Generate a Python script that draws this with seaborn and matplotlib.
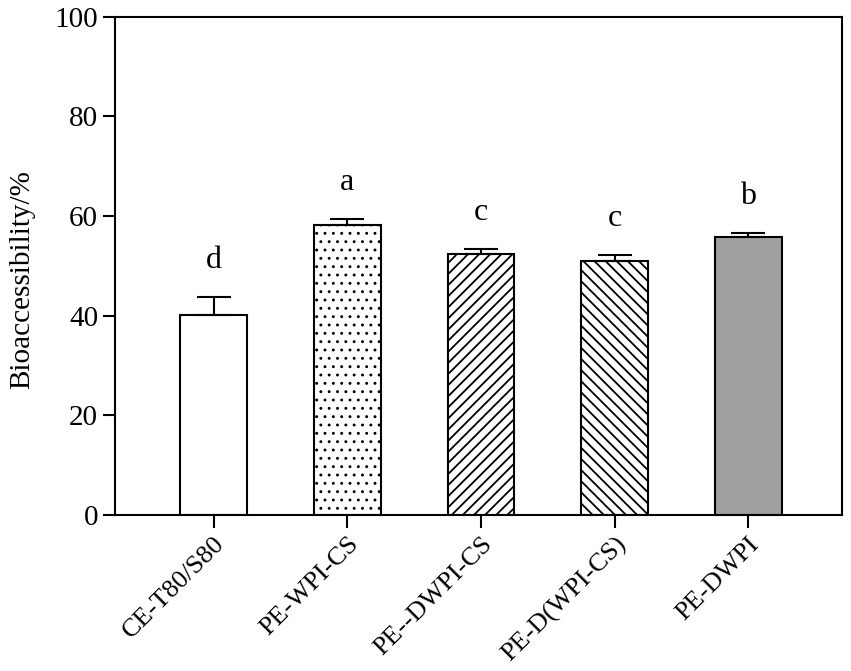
import numpy as np
import pandas as pd
import matplotlib
matplotlib.use('Agg')
import matplotlib.pyplot as plt
import seaborn as sns

# values
samples = ['CE-T80/S80', 'PE-WPI-CS', 'PE--DWPI-CS', 'PE-D(WPI-CS)', 'PE-DWPI']
bioaccessibility = [40.2, 58.2, 52.3, 51.0, 55.8]
sd = [3.6, 1.2, 1.1, 1.1, 0.9]
letters = ['d', 'a', 'c', 'c', 'b']

fills = ['white', 'white', 'white', 'white', '#9f9fa3']
hatches = ['', '..', '///', '\\\\\\', '']

sns.set_style('ticks')
plt.rcParams['font.family'] = ['Liberation Serif', 'DejaVu Serif']
plt.rcParams['hatch.linewidth'] = 1.3
plt.rcParams['axes.linewidth'] = 1.5
for key in ['text.color', 'axes.labelcolor', 'xtick.color', 'ytick.color']:
    plt.rcParams[key] = 'black'

df = pd.DataFrame({'sample': samples, 'value': bioaccessibility, 'sd': sd})

fig = plt.figure(figsize=(8.51, 6.71), dpi=100)
ax = fig.add_axes([0.135, 0.2325, 0.854, 0.7425])

sns.barplot(data=df, x='sample', y='value', hue='sample',
            palette=dict(zip(samples, fills)), legend=False,
            width=0.5, edgecolor='black', linewidth=1.5,
            errorbar=None, ax=ax)

for patch, h in zip(ax.patches, hatches):
    patch.set_hatch(h)
    if h == '..':
        patch.set_hatch_linewidth(0.9)

x = np.arange(len(samples))
ax.errorbar(x, df['value'], yerr=[np.zeros(len(sd)), df['sd']],
            fmt='none', ecolor='black', elinewidth=1.5, capsize=12,
            capthick=1.5, zorder=1)

# significance letters
for xi, m, s, lab in zip(x, bioaccessibility, sd, letters):
    ax.text(xi, m + s + 4.4, lab, ha='center', va='bottom', fontsize=23)

ax.set_xlim(-0.74, 4.70)
ax.set_ylim(0, 100)
ax.set_yticks([0, 20, 40, 60, 80, 100])
ax.set_xlabel('')
ax.set_ylabel('Bioaccessibility/%', fontsize=21)
ax.yaxis.set_label_coords(-0.110, 0.472)
ax.tick_params(axis='both', direction='out', length=9, width=1.5, colors='black')
ax.tick_params(axis='y', labelsize=21, pad=3)
ax.tick_params(axis='x', labelsize=19, pad=4)
plt.setp(ax.get_xticklabels(), rotation=45, ha='right', rotation_mode='anchor')

for spine in ['top', 'bottom', 'left', 'right']:
    ax.spines[spine].set_visible(True)
    ax.spines[spine].set_color('black')
    ax.spines[spine].set_linewidth(1.5)

fig.savefig('out.png', dpi=100)
